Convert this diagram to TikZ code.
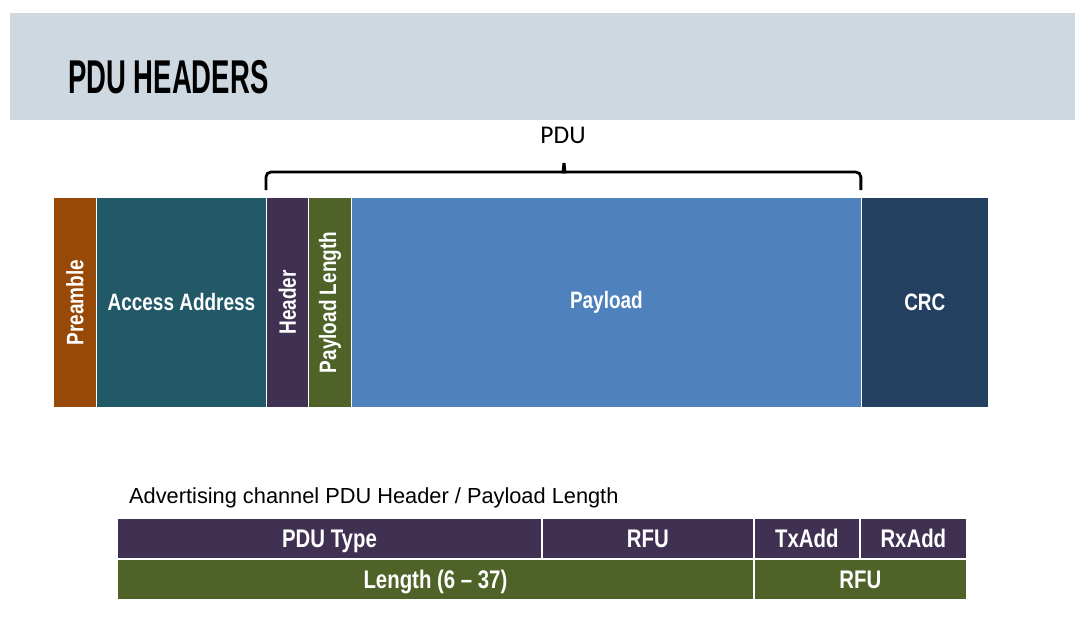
\documentclass[tikz,border=0pt]{standalone}
\usepackage{fontspec}
\setmainfont{Liberation Sans}
\newfontfamily\fieldfont[FakeStretch=0.8]{Liberation Sans}
\newfontfamily\titlefont[FakeStretch=0.58]{Liberation Sans}
\newfontfamily\bracefont{Carlito}
\usetikzlibrary{positioning}
\definecolor{bandgray}{RGB}{205,216,225}
\definecolor{preorange}{RGB}{152,72,7}
\definecolor{accteal}{RGB}{33,89,104}
\definecolor{hdrpurple}{RGB}{64,49,82}
\definecolor{lenolive}{RGB}{79,98,40}
\definecolor{payblue}{RGB}{79,129,189}
\definecolor{crcnavy}{RGB}{36,64,97}

\begin{document}
\begin{tikzpicture}[x=0.02cm, y=-0.02cm,
    node distance=0.02cm,
    field/.style={rectangle, inner sep=0pt, outer sep=0pt, minimum height=4.18cm, text=white,
      font=\fieldfont\bfseries\fontsize{13.5}{15}\selectfont},
    cell/.style={field, minimum height=0.78cm, text depth=0pt,
      font=\fieldfont\bfseries\fontsize{14.5}{16}\selectfont},
    pdubrace/.style={line width=1.6pt, rounded corners=0.1cm}
  ]
  \useasboundingbox (0,0) rectangle (1088,633);
  \fill[bandgray] (10,13) rectangle (1075,120);
  \node[anchor=west, font=\titlefont\bfseries\fontsize{27}{30}\selectfont] (title) at (62,77) {PDU HEADERS};

  % air packet
  \node[field, fill=preorange, minimum width=0.84cm, anchor=north west] (pre) at (54,198) {\rotatebox{90}{Preamble}};
  \node[field, fill=accteal, minimum width=3.38cm, right=of pre] (acc) {Access Address};
  \node[field, fill=hdrpurple, minimum width=0.82cm, right=of acc] (hdr) {\rotatebox{90}{Header}};
  \node[field, fill=lenolive, minimum width=0.84cm, right=of hdr] (plen) {\rotatebox{90}{Payload Length}};
  \node[field, fill=payblue, minimum width=10.18cm, right=of plen] (pay) {Payload};
  \node[field, fill=crcnavy, minimum width=2.52cm, right=of pay] (crc) {CRC};

  % PDU brace
  \node[font=\bracefont\fontsize{14.5}{16}\selectfont] (pdu) at (563,135) {PDU};
  \coordinate (bl) at ([xshift=-0.02cm, yshift=0.16cm]hdr.north west);
  \coordinate (br) at ([yshift=0.16cm]pay.north east);
  \coordinate (bt) at (564,163);
  \draw[pdubrace] (bl) |- (559,172) .. controls (563,172) .. (bt);
  \draw[pdubrace] (br) |- (569,172) .. controls (565,172) .. (bt);

  % header layout
  \node[anchor=west, font=\fontsize{12.4}{14}\selectfont] (cap) at (123,498) {Advertising channel PDU Header / Payload Length};
  \node[cell, fill=hdrpurple, minimum width=8.46cm, anchor=north west] (type) at (118,519) {PDU Type};
  \node[cell, fill=hdrpurple, minimum width=4.20cm, right=0.04cm of type] (rfua) {RFU};
  \node[cell, fill=hdrpurple, minimum width=2.08cm, right=0.04cm of rfua] (tx) {TxAdd};
  \node[cell, fill=hdrpurple, minimum width=2.10cm, right=0.04cm of tx] (rx) {RxAdd};
  \node[cell, fill=lenolive, minimum width=12.70cm, below=0.04cm of type.south west, anchor=north west] (len) {Length (6 – 37)};
  \node[cell, fill=lenolive, minimum width=4.22cm, right=0.04cm of len] (rfub) {RFU};
\end{tikzpicture}
\end{document}
